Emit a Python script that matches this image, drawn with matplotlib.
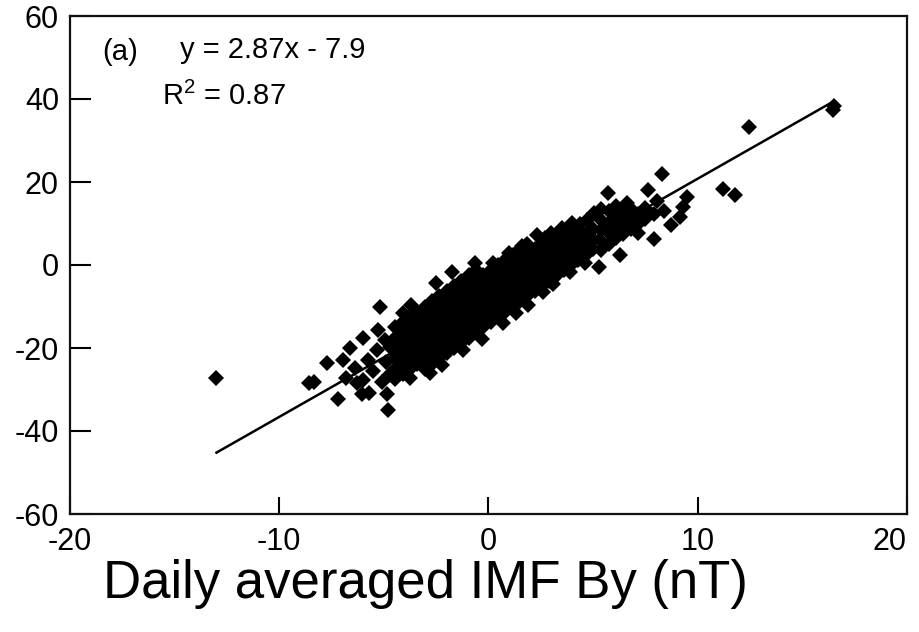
import numpy as np
import matplotlib
matplotlib.use("Agg")
import matplotlib.pyplot as plt

plt.rcParams["font.family"] = ["Liberation Sans", "DejaVu Sans"]
plt.rcParams["mathtext.fontset"] = "custom"
plt.rcParams["mathtext.rm"] = "Liberation Sans"

# daily averaged IMF By (nT) and the matching index value
by_nt = [
    # sparse left tail
    -13.0, -8.6, -8.35, -7.7, -7.2, -6.95, -6.8, -6.6, -6.3, -6.4, -6.0, -6.05, -6.0,
    -5.75, -5.7, -5.5, -5.3, -5.2, -5.35, -5.1, -4.95, -4.9, -4.8, -4.85, -4.7, -4.75,
    # dense core
    -4.45, -4.45, -4.45, -4.45, -4.45, -4.45,
    -4.1, -4.1, -4.1, -4.1, -4.1, -4.1,
    -3.75, -3.75, -3.75, -3.75, -3.75, -3.75,
    -3.4, -3.4, -3.4, -3.4, -3.4, -3.4,
    -3.05, -3.05, -3.05, -3.05, -3.05, -3.05, -3.05,
    -2.7, -2.7, -2.7, -2.7, -2.7, -2.7, -2.7,
    -2.35, -2.35, -2.35, -2.35, -2.35, -2.35, -2.35,
    -2.0, -2.0, -2.0, -2.0, -2.0, -2.0, -2.0,
    -1.65, -1.65, -1.65, -1.65, -1.65, -1.65, -1.65,
    -1.3, -1.3, -1.3, -1.3, -1.3, -1.3, -1.3,
    -0.95, -0.95, -0.95, -0.95, -0.95, -0.95, -0.95,
    -0.6, -0.6, -0.6, -0.6, -0.6, -0.6, -0.6,
    -0.25, -0.25, -0.25, -0.25, -0.25, -0.25,
    0.1, 0.1, 0.1, 0.1, 0.1, 0.1,
    0.45, 0.45, 0.45, 0.45, 0.45, 0.45,
    0.8, 0.8, 0.8, 0.8, 0.8, 0.8,
    1.15, 1.15, 1.15, 1.15, 1.15, 1.15,
    1.5, 1.5, 1.5, 1.5, 1.5, 1.5,
    1.85, 1.85, 1.85, 1.85, 1.85, 1.85,
    2.2, 2.2, 2.2, 2.2, 2.2,
    2.55, 2.55, 2.55, 2.55, 2.55,
    2.9, 2.9, 2.9, 2.9, 2.9,
    3.25, 3.25, 3.25, 3.25, 3.25,
    3.6, 3.6, 3.6, 3.6,
    3.95, 3.95, 3.95, 3.95,
    4.3, 4.3, 4.3, 4.3,
    4.65, 4.65, 4.65,
    5.0, 5.0, 5.0,
    # points on the upper edge of the core
    -2.5, -1.75, -0.65, 0.2, 1.0, 1.6, 2.3, 2.7, 3.0, 3.5, 4.0, 4.35, 4.7, 5.05, -4.1, -3.7,
    # points on the lower edge of the core
    -3.75, -2.8, -2.2, -1.2, -0.3, 0.7, 1.3, 1.9, 2.6, 3.1, 3.9, 4.6,
    # right side
    5.3, 5.4, 5.4, 5.4, 5.4, 5.4, 5.7,
    5.75, 5.75, 5.75, 5.75,
    6.1, 6.1, 6.1, 6.1,
    6.3, 6.45, 6.45, 6.45, 6.6,
    6.8, 6.8, 6.8,
    7.15, 7.15, 7.15,
    7.5, 7.5,
    7.6, 7.9, 7.9, 8.05, 8.3, 8.4, 8.7, 9.15, 9.3, 9.5,
    11.2, 11.8, 12.45, 16.45, 16.5,
]

index_values = [
    # sparse left tail
    -27.2, -28.4, -28.3, -23.6, -32.4, -22.9, -27.2, -20.0, -28.4, -24.8, -17.6, -31.0, -27.7,
    -22.9, -30.8, -25.5, -15.7, -10.1, -20.5, -28.3, -18.0, -23.3, -34.9, -31.2, -19.8, -26.4,
    # dense core
    -15.0, -17.5, -20.0, -22.5, -25.0, -27.5,
    -13.75, -16.25, -18.75, -21.25, -23.75, -26.25,
    -12.5, -15.0, -17.5, -20.0, -22.5, -25.0,
    -11.25, -13.75, -16.25, -18.75, -21.25, -23.75,
    -10.0, -12.5, -15.0, -17.5, -20.0, -22.5, -25.0,
    -8.75, -11.25, -13.75, -16.25, -18.75, -21.25, -23.75,
    -7.5, -10.0, -12.5, -15.0, -17.5, -20.0, -22.5,
    -6.25, -8.75, -11.25, -13.75, -16.25, -18.75, -21.25,
    -5.0, -7.5, -10.0, -12.5, -15.0, -17.5, -20.0,
    -3.75, -6.25, -8.75, -11.25, -13.75, -16.25, -18.75,
    -2.5, -5.0, -7.5, -10.0, -12.5, -15.0, -17.5,
    -1.25, -3.75, -6.25, -8.75, -11.25, -13.75, -16.25,
    -2.5, -5.0, -7.5, -10.0, -12.5, -15.0,
    -1.25, -3.75, -6.25, -8.75, -11.25, -13.75,
    0.0, -2.5, -5.0, -7.5, -10.0, -12.5,
    1.25, -1.25, -3.75, -6.25, -8.75, -11.25,
    2.5, 0.0, -2.5, -5.0, -7.5, -10.0,
    3.75, 1.25, -1.25, -3.75, -6.25, -8.75,
    5.0, 2.5, 0.0, -2.5, -5.0, -7.5,
    3.75, 1.25, -1.25, -3.75, -6.25,
    5.0, 2.5, 0.0, -2.5, -5.0,
    6.25, 3.75, 1.25, -1.25, -3.75,
    7.5, 5.0, 2.5, 0.0, -2.5,
    6.25, 3.75, 1.25, -1.25,
    7.5, 5.0, 2.5, 0.0,
    8.75, 6.25, 3.75, 1.25,
    7.5, 5.0, 2.5,
    8.75, 6.25, 3.75,
    # upper edge
    -4.4, -1.7, 0.5, 0.5, 3.0, 4.6, 7.2, 6.6, 7.6, 8.8, 10.1, 10.0, 10.9, 12.6, -11.6, -9.6,
    # lower edge
    -27.2, -26.0, -24.0, -20.5, -17.8, -14.0, -11.5, -9.6, -6.6, -4.6, -1.8, 0.6,
    # right side
    -0.6, 13.4, 10.9, 8.4, 5.9, 3.6, 17.3,
    13.0, 10.2, 7.7, 5.0,
    14.1, 11.6, 9.1, 6.4,
    2.3, 12.6, 10.1, 7.4, 15.0,
    13.6, 11.6, 8.6,
    12.4, 9.9, 7.7,
    13.8, 11.0,
    18.1, 6.3, 12.4, 15.4, 21.9, 13.0, 9.6, 11.6, 14.0, 16.4,
    18.3, 16.8, 33.3, 37.4, 38.4,
]

fit_slope = 2.87
fit_intercept = -7.9
fit_r2 = 0.87

x_ticks = [-20, -10, 0, 10, 20]
y_ticks = [-60, -40, -20, 0, 20, 40, 60]

x = np.asarray(by_nt, dtype=float)
y = np.asarray(index_values, dtype=float)
assert len(x) == len(y)

fig = plt.figure(figsize=(9.2, 6.32), dpi=100)
ax = fig.add_axes([70 / 920, 118 / 632, 837 / 920, 498 / 632])

ax.plot(x, y, linestyle="none", marker="D", markersize=8.2, color="black",
        markeredgewidth=0, zorder=2)

line_x = np.array([x.min(), x.max()])
ax.plot(line_x, fit_slope * line_x + fit_intercept, color="black", linewidth=1.8, zorder=3)

ax.set_xlim(-20, 20)
ax.set_ylim(-60, 60)
ax.set_xticks(x_ticks)
ax.set_yticks(y_ticks)
ax.set_xticklabels([str(v) for v in x_ticks])
ax.set_yticklabels([str(v) for v in y_ticks])
ax.tick_params(axis="x", direction="in", length=12, width=1.5, labelsize=22, pad=9)
ax.tick_params(axis="y", direction="in", length=15, width=1.5, labelsize=22, pad=8)
ax.get_xticklabels()[-1].set_horizontalalignment("right")
for spine in ax.spines.values():
    spine.set_linewidth(1.6)
    spine.set_color("#111111")

ax.text(0.038, 0.912, "(a)", transform=ax.transAxes, fontsize=21, ha="left", va="baseline")
ax.text(0.131, 0.916, f"y = {fit_slope:.2f}x - {abs(fit_intercept):.1f}", transform=ax.transAxes,
        fontsize=21, ha="left", va="baseline")
ax.text(0.110, 0.821, f"R$^\\mathregular{{2}}$ = {fit_r2:.2f}", transform=ax.transAxes,
        fontsize=21, ha="left", va="baseline")

fig.text(425 / 920, 34 / 632, "Daily averaged IMF By (nT)", fontsize=38, ha="center", va="baseline")

fig.savefig("out.png", dpi=100)
